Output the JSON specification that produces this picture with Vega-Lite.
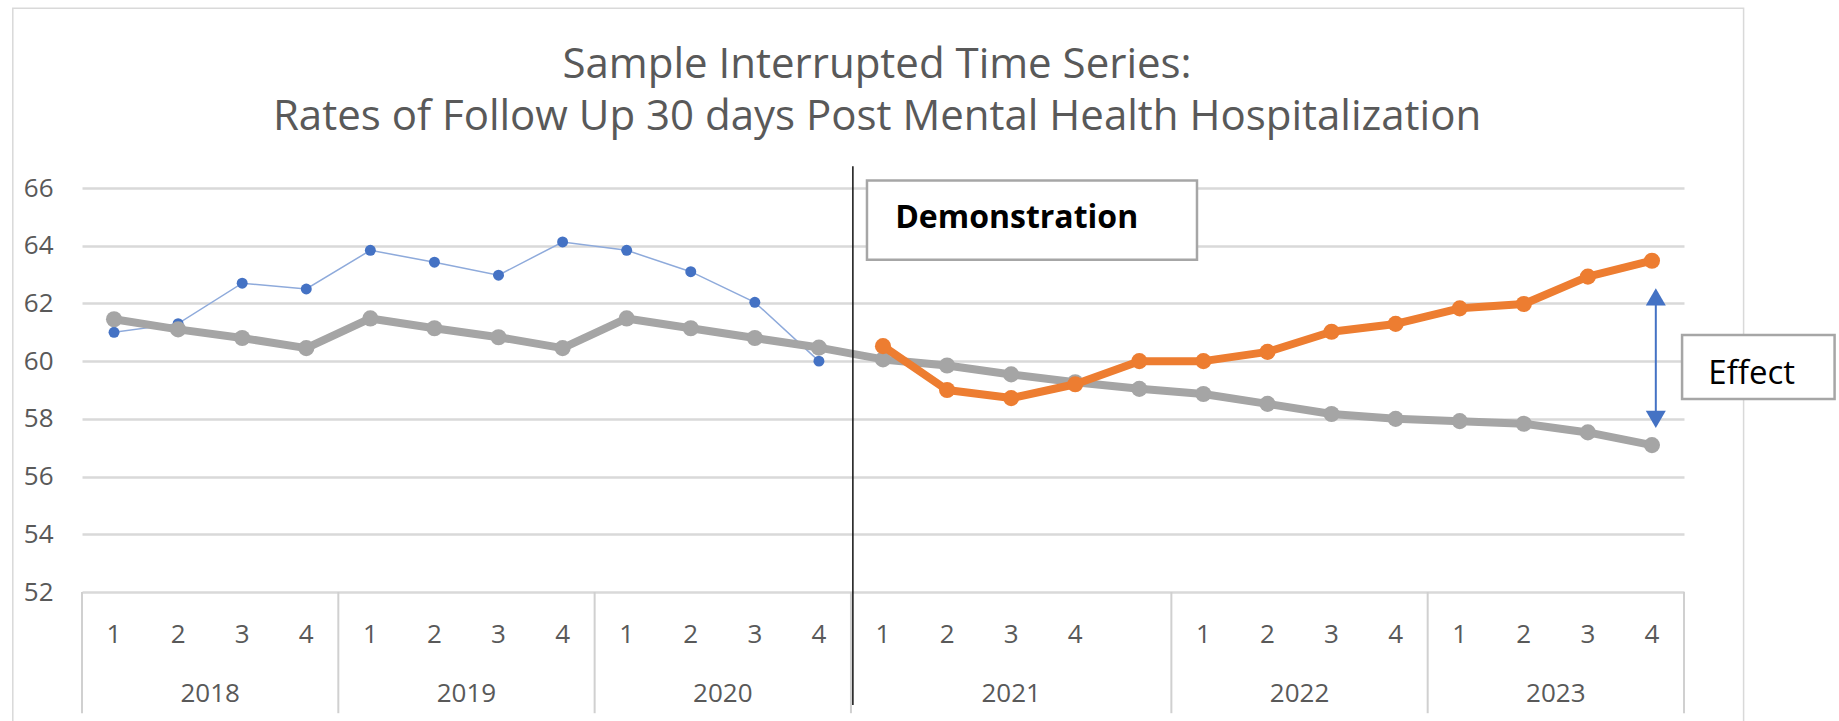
{
  "$schema": "https://vega.github.io/schema/vega-lite/v6.json",
  "width": 1602,
  "height": 404,
  "autosize": {"type": "none"},
  "padding": {"left": 82, "top": 188, "right": 155, "bottom": 129},
  "background": "white",
  "config": {
    "view": {"stroke": null},
    "font": "Open Sans",
    "axisY": {
      "tickCount": 8, "grid": true, "gridColor": "#d9d9d9", "gridWidth": 2.5,
      "domain": false, "ticks": false, "tickSize": 0,
      "labelFont": "Open Sans", "labelFontSize": 26, "labelColor": "#595959", "labelPadding": 29
    }
  },
  "datasets": {
    "series": [
      {"slot": 0, "series": "Pre", "value": 61.0},
      {"slot": 1, "series": "Pre", "value": 61.3},
      {"slot": 2, "series": "Pre", "value": 62.7},
      {"slot": 3, "series": "Pre", "value": 62.5},
      {"slot": 4, "series": "Pre", "value": 63.84},
      {"slot": 5, "series": "Pre", "value": 63.43},
      {"slot": 6, "series": "Pre", "value": 62.98},
      {"slot": 7, "series": "Pre", "value": 64.13},
      {"slot": 8, "series": "Pre", "value": 63.84},
      {"slot": 9, "series": "Pre", "value": 63.1},
      {"slot": 10, "series": "Pre", "value": 62.04},
      {"slot": 11, "series": "Pre", "value": 60.0},
      {"slot": 0, "series": "Trend", "value": 61.45},
      {"slot": 1, "series": "Trend", "value": 61.1},
      {"slot": 2, "series": "Trend", "value": 60.8},
      {"slot": 3, "series": "Trend", "value": 60.45},
      {"slot": 4, "series": "Trend", "value": 61.48},
      {"slot": 5, "series": "Trend", "value": 61.14},
      {"slot": 6, "series": "Trend", "value": 60.83},
      {"slot": 7, "series": "Trend", "value": 60.45},
      {"slot": 8, "series": "Trend", "value": 61.48},
      {"slot": 9, "series": "Trend", "value": 61.14},
      {"slot": 10, "series": "Trend", "value": 60.8},
      {"slot": 11, "series": "Trend", "value": 60.47},
      {"slot": 12, "series": "Trend", "value": 60.06},
      {"slot": 13, "series": "Trend", "value": 59.85},
      {"slot": 14, "series": "Trend", "value": 59.54},
      {"slot": 15, "series": "Trend", "value": 59.27},
      {"slot": 16, "series": "Trend", "value": 59.04},
      {"slot": 17, "series": "Trend", "value": 58.86},
      {"slot": 18, "series": "Trend", "value": 58.52},
      {"slot": 19, "series": "Trend", "value": 58.17},
      {"slot": 20, "series": "Trend", "value": 58.0},
      {"slot": 21, "series": "Trend", "value": 57.92},
      {"slot": 22, "series": "Trend", "value": 57.83},
      {"slot": 23, "series": "Trend", "value": 57.53},
      {"slot": 24, "series": "Trend", "value": 57.09},
      {"slot": 12, "series": "Post", "value": 60.52},
      {"slot": 13, "series": "Post", "value": 59.0},
      {"slot": 14, "series": "Post", "value": 58.72},
      {"slot": 15, "series": "Post", "value": 59.2},
      {"slot": 16, "series": "Post", "value": 60.0},
      {"slot": 17, "series": "Post", "value": 60.0},
      {"slot": 18, "series": "Post", "value": 60.32},
      {"slot": 19, "series": "Post", "value": 61.02},
      {"slot": 20, "series": "Post", "value": 61.29},
      {"slot": 21, "series": "Post", "value": 61.83},
      {"slot": 22, "series": "Post", "value": 61.98},
      {"slot": 23, "series": "Post", "value": 62.93},
      {"slot": 24, "series": "Post", "value": 63.48}
    ],
    "quarters": [
      {"slot": 0, "q": "1"}, {"slot": 1, "q": "2"}, {"slot": 2, "q": "3"}, {"slot": 3, "q": "4"},
      {"slot": 4, "q": "1"}, {"slot": 5, "q": "2"}, {"slot": 6, "q": "3"}, {"slot": 7, "q": "4"},
      {"slot": 8, "q": "1"}, {"slot": 9, "q": "2"}, {"slot": 10, "q": "3"}, {"slot": 11, "q": "4"},
      {"slot": 12, "q": "1"}, {"slot": 13, "q": "2"}, {"slot": 14, "q": "3"}, {"slot": 15, "q": "4"},
      {"slot": 17, "q": "1"}, {"slot": 18, "q": "2"}, {"slot": 19, "q": "3"}, {"slot": 20, "q": "4"},
      {"slot": 21, "q": "1"}, {"slot": 22, "q": "2"}, {"slot": 23, "q": "3"}, {"slot": 24, "q": "4"}
    ],
    "years": [
      {"center": 1.5, "year": "2018"},
      {"center": 5.5, "year": "2019"},
      {"center": 9.5, "year": "2020"},
      {"center": 14.0, "year": "2021"},
      {"center": 18.5, "year": "2022"},
      {"center": 22.5, "year": "2023"}
    ],
    "separators": [
      {"x": -0.5}, {"x": 3.5}, {"x": 7.5}, {"x": 11.5}, {"x": 16.5}, {"x": 20.5}, {"x": 24.5}
    ],
    "frame": [{"x1": -1.58, "x2": 25.43, "y1": 72.23, "y2": 46.0}],
    "intervention": [{"x": 11.53, "y": 66.75, "y2": 48.08}],
    "boxes": [
      {"name": "Demonstration", "x1": 11.75, "x2": 16.9, "y1": 66.26, "y2": 63.51, "tx": 12.19, "ty": 64.61},
      {"name": "Effect", "x1": 24.47, "x2": 26.85, "y1": 60.91, "y2": 58.69, "tx": 24.88, "ty": 59.21}
    ],
    "arrow": [{"x": 24.06, "top": 62.3, "bottom": 57.9}],
    "heads": [
      {"x": 24.06, "y": 62.23, "dir": "up"},
      {"x": 24.06, "y": 57.98, "dir": "down"}
    ],
    "titles": [
      {"x": 11.907, "y": 69.81, "line": "Sample Interrupted Time Series:"},
      {"x": 11.907, "y": 67.997, "line": "Rates of Follow Up 30 days Post Mental Health Hospitalization"}
    ]
  },
  "layer": [
    {
      "data": {"name": "frame"},
      "mark": {"type": "rect", "fill": "transparent", "stroke": "#d9d9d9", "strokeWidth": 1.5},
      "encoding": {
        "x": {"field": "x1", "type": "quantitative", "scale": {"domain": [-0.5, 24.5], "nice": false, "zero": false}, "axis": null},
        "x2": {"field": "x2"},
        "y": {"field": "y1", "type": "quantitative", "title": null, "scale": {"domain": [52, 66], "nice": false, "zero": false}},
        "y2": {"field": "y2"}
      }
    },
    {
      "data": {"name": "separators"},
      "mark": {"type": "rule", "color": "#d0d0d0", "strokeWidth": 2},
      "encoding": {
        "x": {"field": "x", "type": "quantitative", "axis": null},
        "y": {"datum": 52, "type": "quantitative", "title": null},
        "y2": {"datum": 47.8}
      }
    },
    {
      "data": {"name": "quarters"},
      "mark": {"type": "text", "font": "Open Sans", "fontSize": 26, "color": "#595959", "align": "center", "baseline": "alphabetic"},
      "encoding": {
        "x": {"field": "slot", "type": "quantitative", "axis": null},
        "y": {"datum": 50.22, "type": "quantitative", "title": null},
        "text": {"field": "q"}
      }
    },
    {
      "data": {"name": "years"},
      "mark": {"type": "text", "font": "Open Sans", "fontSize": 26, "color": "#595959", "align": "center", "baseline": "alphabetic"},
      "encoding": {
        "x": {"field": "center", "type": "quantitative", "axis": null},
        "y": {"datum": 48.2, "type": "quantitative", "title": null},
        "text": {"field": "year"}
      }
    },
    {
      "data": {"name": "series"},
      "transform": [{"filter": "datum.series === 'Pre'"}],
      "mark": {"type": "line", "color": "#8eaadb", "strokeWidth": 1.5, "point": {"filled": true, "color": "#4472c4", "size": 120, "opacity": 1}},
      "encoding": {
        "x": {"field": "slot", "type": "quantitative", "axis": null},
        "y": {"field": "value", "type": "quantitative", "title": null}
      }
    },
    {
      "data": {"name": "series"},
      "transform": [{"filter": "datum.series === 'Trend'"}],
      "mark": {"type": "line", "color": "#a5a5a5", "strokeWidth": 8, "strokeJoin": "round", "strokeCap": "round", "point": {"filled": true, "color": "#a5a5a5", "size": 260, "opacity": 1}},
      "encoding": {
        "x": {"field": "slot", "type": "quantitative", "axis": null},
        "y": {"field": "value", "type": "quantitative", "title": null}
      }
    },
    {
      "data": {"name": "series"},
      "transform": [{"filter": "datum.series === 'Post'"}],
      "mark": {"type": "line", "color": "#ed7d31", "strokeWidth": 8, "strokeJoin": "round", "strokeCap": "round", "point": {"filled": true, "color": "#ed7d31", "size": 260, "opacity": 1}},
      "encoding": {
        "x": {"field": "slot", "type": "quantitative", "axis": null},
        "y": {"field": "value", "type": "quantitative", "title": null}
      }
    },
    {
      "data": {"name": "intervention"},
      "mark": {"type": "rule", "color": "#111111", "strokeWidth": 1.5},
      "encoding": {
        "x": {"field": "x", "type": "quantitative", "axis": null},
        "y": {"field": "y", "type": "quantitative", "title": null},
        "y2": {"field": "y2"}
      }
    },
    {
      "data": {"name": "boxes"},
      "mark": {"type": "rect", "fill": "white", "stroke": "#a6a6a6", "strokeWidth": 2.5},
      "encoding": {
        "x": {"field": "x1", "type": "quantitative", "axis": null},
        "x2": {"field": "x2"},
        "y": {"field": "y1", "type": "quantitative", "title": null},
        "y2": {"field": "y2"}
      }
    },
    {
      "data": {"name": "boxes"},
      "transform": [{"filter": "datum.name === 'Demonstration'"}],
      "mark": {"type": "text", "font": "Open Sans", "fontWeight": "bold", "fontSize": 32, "color": "#000000", "align": "left", "baseline": "alphabetic"},
      "encoding": {
        "x": {"field": "tx", "type": "quantitative", "axis": null},
        "y": {"field": "ty", "type": "quantitative", "title": null},
        "text": {"field": "name"}
      }
    },
    {
      "data": {"name": "boxes"},
      "transform": [{"filter": "datum.name === 'Effect'"}],
      "mark": {"type": "text", "font": "Open Sans", "fontSize": 33, "color": "#000000", "align": "left", "baseline": "alphabetic"},
      "encoding": {
        "x": {"field": "tx", "type": "quantitative", "axis": null},
        "y": {"field": "ty", "type": "quantitative", "title": null},
        "text": {"field": "name"}
      }
    },
    {
      "data": {"name": "arrow"},
      "mark": {"type": "rule", "color": "#4472c4", "strokeWidth": 2},
      "encoding": {
        "x": {"field": "x", "type": "quantitative", "axis": null},
        "y": {"field": "top", "type": "quantitative", "title": null},
        "y2": {"field": "bottom"}
      }
    },
    {
      "data": {"name": "heads"},
      "mark": {"type": "point", "filled": true, "color": "#4472c4", "size": 400, "opacity": 1},
      "encoding": {
        "x": {"field": "x", "type": "quantitative", "axis": null},
        "y": {"field": "y", "type": "quantitative", "title": null},
        "shape": {"field": "dir", "type": "nominal", "scale": {"domain": ["up", "down"], "range": ["triangle-up", "triangle-down"]}, "legend": null}
      }
    },
    {
      "data": {"name": "titles"},
      "mark": {"type": "text", "font": "Open Sans", "fontSize": 42, "color": "#595959", "align": "center", "baseline": "alphabetic"},
      "encoding": {
        "x": {"field": "x", "type": "quantitative", "axis": null},
        "y": {"field": "y", "type": "quantitative", "title": null},
        "text": {"field": "line"}
      }
    }
  ]
}
